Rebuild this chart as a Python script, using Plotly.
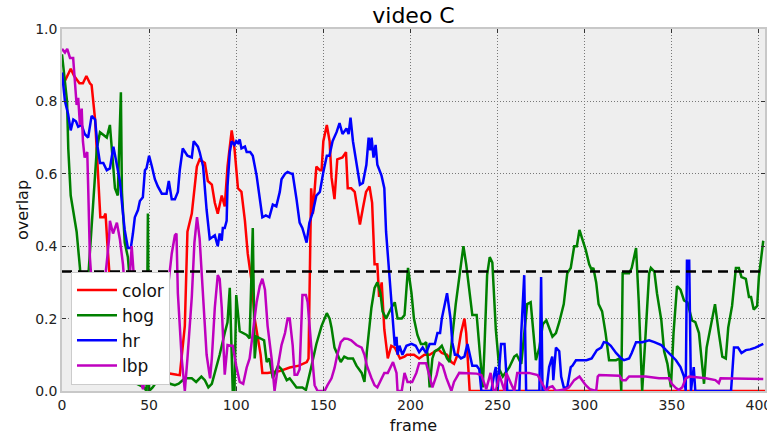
import plotly.graph_objects as go

TITLE = "video C"
THRESHOLD = 0.33
X_TICKS = [0, 50, 100, 150, 200, 250, 300, 350, 400]
Y_TICKS = [0.0, 0.2, 0.4, 0.6, 0.8, 1.0]

color_frames = [0, 2, 4, 5, 7, 10, 12, 14, 16, 17, 19, 22, 24, 25, 26, 27, 29, 32, 35, 40, 50, 60, 66, 67.6,
                70.5, 72, 74.5, 77.4, 79, 82, 83.7, 86, 87.7, 89.4, 91.7, 93.4, 95, 97.4, 99, 101, 103, 105,
                106.6, 108.9, 110.6, 112.3, 114, 115, 118, 125, 130.7, 136, 138, 140.5, 141.5, 142.5, 143, 144,
                146, 148, 149, 150, 152, 153.6, 154.7, 156.4, 158, 161, 163, 164, 166, 168, 171, 172.7, 174.5,
                176.5, 178, 179.4, 181, 182, 183.5, 185, 187, 189, 191, 194, 196.6, 198, 202, 205, 208, 211,
                214, 216, 218, 221, 223.5, 225, 227, 229, 231, 232, 234, 300, 403.5]
color_overlap = [0.86, 0.86, 0.88, 0.89, 0.87, 0.85, 0.85, 0.87, 0.85, 0.845, 0.75, 0.48, 0.48, 0.49, 0.41, 0.33,
                 0.2, 0.1, 0.06, 0.05, 0.05, 0.05, 0.045, 0.044, 0.18, 0.44, 0.49, 0.62, 0.64, 0.63, 0.58, 0.57,
                 0.52, 0.49, 0.54, 0.51, 0.62, 0.72, 0.67, 0.56, 0.55, 0.47, 0.38, 0.30, 0.20, 0.155, 0.10, 0.05,
                 0.05, 0.055, 0.065, 0.07, 0.075, 0.08, 0.09, 0.45, 0.56, 0.49, 0.62, 0.61, 0.61, 0.69, 0.735,
                 0.69, 0.59, 0.53, 0.64, 0.645, 0.66, 0.56, 0.56, 0.55, 0.46, 0.505, 0.55, 0.565, 0.52, 0.35,
                 0.35, 0.26, 0.30, 0.17, 0.09, 0.125, 0.12, 0.09, 0.095, 0.10, 0.10, 0.09, 0.10, 0.10, 0.11,
                 0.115, 0.105, 0.10, 0.08, 0.075, 0.10, 0.16, 0.20, 0.16, 0.0, 0.0, 0.0]

hog_frames = [0, 1, 2.9, 3.6, 4.6, 5, 8.4, 10.3, 12, 14, 15, 18, 20, 21.8, 24, 25.7, 27.5, 29.3, 30.4, 32, 33.8,
              34.4, 36, 37.8, 39, 40, 43, 47, 48.5, 49.3, 50, 52, 55, 59, 62, 64.8, 67, 70.5, 74.5, 77, 80, 82,
              84, 86, 87.7, 90.5, 93.4, 95, 96.3, 97.4, 98, 99, 100, 102, 104, 106, 107.7, 109.5, 110.6, 111.7,
              114, 116, 117.5, 119, 121, 124, 126, 129, 130.7, 134.6, 138, 140, 143, 146, 149, 152, 153.6,
              154.7, 156.4, 158, 160, 162, 164, 167, 169, 172, 173.6, 175, 177.6, 179.4, 181, 182.8, 184, 186,
              189, 191, 192.6, 195, 196.6, 198.6, 200.6, 202, 204, 206, 208, 209, 210, 211, 212.6, 214, 216,
              218, 221, 222.5, 224, 226, 229, 230.4, 232, 234, 235.5, 238, 239.5, 240.7, 241.5, 242.4, 244,
              245.5, 247, 249, 251, 253, 256.7, 259.6, 261, 263.6, 265.3, 267, 269, 270.5, 272, 274, 276, 278,
              279.6, 281.5, 283.5, 285.4, 288, 290, 292, 294, 295.5, 297, 298.6, 300.6, 302.6, 304, 305,
              306.6, 308, 310, 312, 314, 318, 320, 321, 321.8, 323.6, 325.5, 327, 329.5, 331, 333, 335, 337,
              338, 340, 341.5, 344, 345.6, 347.5, 349.5, 351, 353, 355, 357, 359, 361.6, 363.5, 365.6, 367.5,
              368.5, 370, 373, 374.8, 377, 379, 381, 382.4, 384.6, 386.8, 388.5, 390, 392.5, 394.3, 395.5,
              397, 399, 400, 402.5]
hog_overlap = [0.93, 0.88, 0.80, 0.67, 0.555, 0.54, 0.44, 0.34, 0.2, 0.2, 0.31, 0.51, 0.67, 0.715, 0.705, 0.70,
               0.735, 0.62, 0.56, 0.54, 0.825, 0.55, 0.41, 0.37, 0.3, 0.05, 0.02, 0.01, 0.0, 0.49, 0.0, 0.01,
               0.03, 0.03, 0.02, 0.016, 0.02, 0.035, 0.035, 0.025, 0.04, 0.03, 0.01, 0.02, 0.05, 0.10, 0.16,
               0.19, 0.285, 0.135, 0.0, 0.0, 0.265, 0.165, 0.16, 0.155, 0.145, 0.45, 0.09, 0.15, 0.145, 0.14,
               0.08, 0.09, 0.035, 0.07, 0.06, 0.03, 0.035, 0.01, 0.01, 0.003, 0.065, 0.13, 0.18, 0.215, 0.20,
               0.175, 0.12, 0.10, 0.08, 0.095, 0.09, 0.09, 0.07, 0.05, 0.025, 0.11, 0.23, 0.285, 0.30, 0.27,
               0.22, 0.20, 0.23, 0.245, 0.20, 0.20, 0.21, 0.34, 0.27, 0.20, 0.155, 0.13, 0.13, 0.135, 0.09,
               0.01, 0.09, 0.11, 0.115, 0.125, 0.09, 0.08, 0.155, 0.24, 0.35, 0.40, 0.35, 0.27, 0.21, 0.21,
               0.12, 0.07, 0.01, 0.11, 0.32, 0.37, 0.355, 0.17, 0.06, 0.04, 0.065, 0.095, 0.10, 0.075, 0.16,
               0.24, 0.245, 0.16, 0.085, 0.12, 0.185, 0.195, 0.175, 0.15, 0.16, 0.19, 0.24, 0.325, 0.34, 0.40,
               0.40, 0.445, 0.42, 0.39, 0.35, 0.335, 0.34, 0.30, 0.24, 0.22, 0.16, 0.085, 0.085, 0.09, 0.0,
               0.325, 0.325, 0.325, 0.34, 0.395, 0.25, 0.0, 0.16, 0.325, 0.34, 0.33, 0.27, 0.195, 0.11, 0.075,
               0.01, 0.16, 0.29, 0.28, 0.25, 0.245, 0.195, 0.19, 0.16, 0.06, 0.02, 0.12, 0.195, 0.24, 0.16,
               0.095, 0.09, 0.175, 0.235, 0.34, 0.34, 0.315, 0.31, 0.26, 0.26, 0.225, 0.235, 0.315, 0.415]

hr_frames = [0, 1.7, 3.5, 5, 6.5, 8, 9.3, 11.3, 13, 15, 17, 19, 20.4, 21.8, 23.7, 25.7, 27.5, 29.5, 31.3, 33.2,
             35, 36, 37.8, 39.5, 40.7, 41.8, 43.6, 44.7, 46.4, 47.6, 48.5, 50, 51.6, 53.3, 55, 57.3, 60, 61.3,
             63, 64.8, 66.5, 67.6, 69.3, 70.5, 72, 74.5, 75.6, 78, 79, 81, 83, 84.8, 86, 87.7, 89.4, 90.5, 91.7,
             92.3, 93.4, 94.5, 95, 96.3, 97.4, 99, 100, 101, 102, 103, 105, 106, 108, 109.5, 111.7, 113.5, 115,
             117, 119, 121, 123, 125, 126, 128, 129.5, 131.8, 132.4, 134.6, 136.4, 138, 140.4, 142, 144, 146,
             148, 150, 152, 153.5, 155.3, 157.6, 159.3, 161, 163.3, 164.5, 165.6, 167, 169, 171, 172.7, 174.7,
             176, 177, 177.7, 178.8, 180, 181, 183.4, 185, 186, 188, 190, 191, 192, 192.6, 193.7, 195.4, 197.7,
             200.6, 203, 205, 207, 209, 211, 214, 215.5, 217, 218, 220, 221, 223, 224, 225.5, 227, 229, 231,
             232.7, 234, 235.5, 238, 239.5, 240.7, 246.4, 248, 249, 250, 252, 254, 255.6, 262.5, 263.6, 265.3,
             266.4, 274, 275, 275.8, 278, 279.6, 281.4, 282, 283.5, 285.4, 286.5, 288, 290, 292, 293, 295, 301,
             304, 307, 309.5, 311, 313, 315, 318, 321, 322.6, 325.5, 327, 329.5, 333, 337, 340, 344, 346.7,
             349.5, 352.4, 355, 357, 358, 358.7, 360, 361, 362.6, 363.5, 384, 385.7, 388, 390, 392.5, 395, 398,
             401, 402.5]
hr_overlap = [0.88, 0.80, 0.765, 0.72, 0.75, 0.745, 0.73, 0.735, 0.71, 0.70, 0.76, 0.75, 0.675, 0.63, 0.63, 0.61,
              0.615, 0.675, 0.63, 0.58, 0.49, 0.445, 0.395, 0.395, 0.435, 0.48, 0.50, 0.525, 0.535, 0.61, 0.615,
              0.65, 0.62, 0.585, 0.565, 0.545, 0.545, 0.58, 0.53, 0.53, 0.55, 0.61, 0.67, 0.66, 0.65, 0.645,
              0.69, 0.675, 0.66, 0.62, 0.50, 0.42, 0.425, 0.43, 0.40, 0.435, 0.415, 0.45, 0.45, 0.47, 0.565,
              0.66, 0.69, 0.68, 0.69, 0.685, 0.695, 0.67, 0.675, 0.66, 0.66, 0.65, 0.595, 0.535, 0.48, 0.485,
              0.48, 0.515, 0.51, 0.55, 0.585, 0.60, 0.605, 0.60, 0.60, 0.53, 0.465, 0.45, 0.41, 0.465, 0.495,
              0.54, 0.55, 0.605, 0.65, 0.65, 0.69, 0.715, 0.74, 0.71, 0.725, 0.71, 0.755, 0.69, 0.625, 0.57,
              0.575, 0.625, 0.70, 0.665, 0.70, 0.645, 0.68, 0.625, 0.595, 0.56, 0.44, 0.31, 0.18, 0.125, 0.15,
              0.10, 0.125, 0.10, 0.125, 0.13, 0.125, 0.107, 0.12, 0.105, 0.13, 0.13, 0.16, 0.16, 0.20, 0.245,
              0.27, 0.20, 0.135, 0.10, 0.10, 0.09, 0.095, 0.13, 0.10, 0.07, 0.07, 0.06, 0.0, 0.0, 0.045, 0.066,
              0.0, 0.13, 0.13, 0.0, 0.0, 0.16, 0.32, 0.0, 0.0, 0.315, 0.0, 0.0, 0.066, 0.095, 0.03, 0.12, 0.11,
              0.04, 0.01, 0.01, 0.066, 0.07, 0.085, 0.085, 0.09, 0.113, 0.12, 0.135, 0.133, 0.125, 0.105, 0.09,
              0.085, 0.09, 0.105, 0.135, 0.135, 0.14, 0.135, 0.127, 0.113, 0.10, 0.085, 0.066, 0.04, 0.0, 0.36,
              0.36, 0.0, 0.066, 0.0, 0.0, 0.12, 0.12, 0.105, 0.113, 0.115, 0.12, 0.127, 0.13]

lbp_frames = [0, 1.7, 3, 4.6, 6.4, 7.5, 8.4, 9.3, 10.3, 11.3, 12, 13, 14.5, 15, 16, 17, 18.5, 20, 22, 24, 25.7,
              27, 27.5, 29.3, 30.4, 31.5, 33.2, 35, 36.5, 38, 40, 41.5, 43, 45, 46.5, 48, 52, 56, 60, 63, 64.8,
              65.7, 66.5, 68.7, 70.5, 72, 74.5, 76, 77.5, 79, 81, 83, 85, 86, 87.7, 89.4, 90.5, 91.7, 93.4, 95,
              97, 98, 100, 102, 104, 106, 107.7, 109.5, 111.7, 113.5, 115, 116.5, 118, 120.3, 122, 124, 126,
              128, 129.5, 130.7, 132.4, 133.5, 135, 136.4, 138, 140, 141, 143, 145, 146.7, 150.7, 152.4, 154.7,
              156.4, 158, 160, 162, 164, 166, 169, 172, 173.6, 175, 177.6, 179.4, 181, 183.4, 185, 187, 189,
              190, 192, 192.6, 195, 196.6, 198.3, 201, 203.4, 205, 209, 211, 212.6, 215, 216.6, 218.5, 220.6,
              223.5, 225, 228, 235, 238, 240.7, 242.4, 243.5, 246, 247.5, 249, 251, 252, 254, 255, 258, 259.6,
              261.3, 264, 268, 273, 275.6, 278, 279.6, 281.5, 283.5, 289, 291, 294, 297, 298.6, 300.6, 303,
              306.6, 307.5, 308.3, 320, 321.5, 323.6, 325.5, 335, 342.7, 348.4, 350, 352.4, 354, 356, 358, 360,
              369.6, 375, 377, 378, 384.5, 392.5, 402.5]
lbp_overlap = [0.945, 0.935, 0.945, 0.92, 0.92, 0.845, 0.79, 0.81, 0.735, 0.78, 0.69, 0.645, 0.66, 0.57, 0.37,
               0.3, 0.15, 0.02, 0.15, 0.28, 0.355, 0.42, 0.47, 0.435, 0.45, 0.465, 0.42, 0.35, 0.25, 0.25, 0.40,
               0.3, 0.15, 0.03, 0.005, 0.05, 0.15, 0.2, 0.25, 0.38, 0.43, 0.435, 0.27, 0.09, 0.0, 0.09, 0.26,
               0.41, 0.48, 0.42, 0.27, 0.10, 0.035, 0.09, 0.23, 0.32, 0.31, 0.23, 0.045, 0.127, 0.125, 0.125,
               0.07, 0.025, 0.02, 0.065, 0.09, 0.155, 0.245, 0.29, 0.31, 0.28, 0.18, 0.09, 0.0, 0.07, 0.127,
               0.16, 0.20, 0.20, 0.127, 0.045, 0.045, 0.06, 0.265, 0.265, 0.245, 0.127, 0.016, 0.0, 0.0, 0.016,
               0.035, 0.063, 0.10, 0.135, 0.145, 0.144, 0.14, 0.127, 0.12, 0.10, 0.07, 0.036, 0.016, 0.01,
               0.036, 0.05, 0.05, 0.07, 0.08, 0.05, 0.0, 0.0, 0.05, 0.025, 0.025, 0.05, 0.077, 0.077, 0.036,
               0.01, 0.044, 0.077, 0.07, 0.036, 0.0, 0.025, 0.05, 0.05, 0.048, 0.044, 0.016, 0.005, 0.05, 0.005,
               0.0, 0.044, 0.03, 0.0, 0.05, 0.02, 0.0, 0.05, 0.05, 0.05, 0.044, 0.02, 0.0, 0.01, 0.013, 0.0,
               0.005, 0.01, 0.03, 0.04, 0.03, 0.016, 0.005, 0.0, 0.04, 0.044, 0.042, 0.03, 0.03, 0.04, 0.04,
               0.035, 0.035, 0.02, 0.008, 0.003, 0.01, 0.035, 0.04, 0.035, 0.03, 0.022, 0.035, 0.035, 0.034,
               0.033]

series = [
    ("color", color_frames, color_overlap, "#ff0000"),
    ("hog", hog_frames, hog_overlap, "#008000"),
    ("hr", hr_frames, hr_overlap, "#0000ff"),
    ("lbp", lbp_frames, lbp_overlap, "#bf00bf"),
]

FONT = "DejaVu Sans"
fig = go.Figure()
for name, xs, ys, col in series:
    fig.add_trace(go.Scatter(x=xs, y=ys, mode="lines", name=name,
                             line=dict(color=col, width=2.5)))

fig.add_hline(y=THRESHOLD, line=dict(color="black", width=2.5, dash="10px,6px"), layer="above")

axis_common = dict(
    showgrid=True, gridcolor="#777777", gridwidth=1, griddash="1px,2px",
    showline=True, mirror="ticks", linecolor="#c8c8c8", linewidth=1.5,
    ticks="inside", ticklen=4, tickcolor="#333333", zeroline=False, automargin=False,
    ticklabeloverflow="allow",
    tickfont=dict(family=FONT, size=14, color="#222222"),
)
fig.update_xaxes(range=[0, 403.5], tickvals=X_TICKS, **axis_common,
                 title=dict(text="frame", font=dict(family=FONT, size=16, color="#111111"), standoff=8))
fig.update_yaxes(range=[0, 1.0], tickvals=Y_TICKS, tickformat=".1f", **axis_common,
                 title=dict(text="overlap", font=dict(family=FONT, size=16, color="#111111"), standoff=3))

fig.update_layout(
    width=767, height=445,
    margin=dict(l=62, r=2, t=29, b=54, autoexpand=False),
    paper_bgcolor="white", plot_bgcolor="#eeeeee",
    title=dict(text=TITLE, x=0.5, xref="paper", y=1 - 15 / 445, yref="container", yanchor="middle",
               font=dict(family=FONT, size=22, color="black")),
    font=dict(family=FONT),
    legend=dict(x=0.0128, y=0.33, xanchor="left", yanchor="top",
                bgcolor="white", bordercolor="#cccccc", borderwidth=1,
                font=dict(family=FONT, size=17, color="#111111"), itemwidth=40),
    showlegend=True,
)

fig.write_html("out.html", config={"displayModeBar": False},
               post_script="document.body.style.margin='0';document.body.style.overflow='hidden';")
